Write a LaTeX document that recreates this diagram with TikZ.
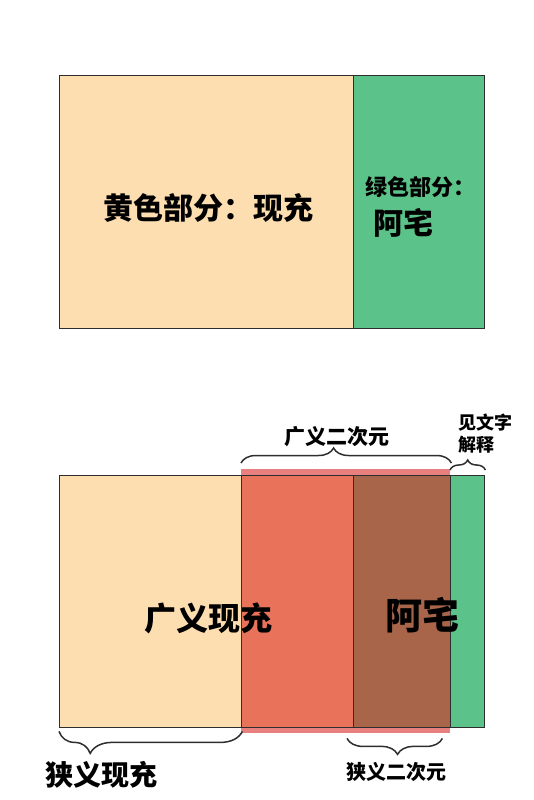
\documentclass[tikz,border=0pt]{standalone}
\usepackage{fontspec}
\newfontfamily\cjk{Noto Sans CJK SC}
\usetikzlibrary{decorations.pathreplacing}
\definecolor{yel}{HTML}{FDDEB1}
\definecolor{grn}{HTML}{5BC389}
\definecolor{red}{HTML}{E8735A}
\definecolor{brn}{HTML}{A9654A}
\definecolor{band}{HTML}{E88080}
\definecolor{ink}{HTML}{2E2E2E}
\newcommand{\fs}[1]{\fontsize{#1}{1.2\dimexpr#1pt\relax}\selectfont}
\begin{document}
\begin{tikzpicture}[
          x=1pt, y=-1pt,
          box/.style={draw=ink, line width=1.4pt, anchor=north west, inner sep=0pt},
          lbl/.style={inner sep=0pt, font=\cjk\bfseries},
          brc/.style={draw=ink, line width=1.5pt, decorate, decoration={brace, amplitude=#1}},
          brc/.default=12pt
        ]
        \useasboundingbox (0,0) rectangle (533,800);
        \node[box, fill=yel, minimum width=294pt, minimum height=253pt] (yelTop) at (59,75) {};
        \node[box, fill=grn, minimum width=131pt, minimum height=253pt] (grnTop) at (353,75) {};
        \fill[band] (241,469) rectangle (450,733);
        \node[box, fill=yel, minimum width=182pt, minimum height=252pt] (yelBot) at (59,475) {};
        \node[box, fill=red, minimum width=112pt, minimum height=252pt] (redBot) at (241,475) {};
        \node[box, fill=brn, minimum width=97pt, minimum height=252pt] (brnBot) at (353,475) {};
        \node[box, fill=grn, minimum width=34pt, minimum height=252pt] (grnBot) at (450,475) {};
        \node[lbl, font=\cjk\bfseries\fs{30}] (yelTxt) at (208,208) {黄色部分：现充};
        \node[lbl, font=\cjk\bfseries\fs{22}, anchor=west] (grnTxt) at (365,187) {绿色部分：};
        \node[lbl, font=\cjk\bfseries\fs{30}, anchor=west] (grnName) at (373,223) {阿宅};
        \node[lbl, font=\cjk\bfseries\fs{32}] (wideReal) at (208,618) {广义现充};
        \node[lbl, font=\cjk\bfseries\fs{37}] (otaku) at (422,615) {阿宅};
        \node[lbl, font=\cjk\bfseries\fs{21}] (wideAcg) at (337,437) {广义二次元};
        \node[lbl, font=\cjk\bfseries\fs{18}, align=left, anchor=north west] (note) at (458,414) {见文字\\解释};
        \node[lbl, font=\cjk\bfseries\fs{28}] (narrowReal) at (101,775) {狭义现充};
        \node[lbl, font=\cjk\bfseries\fs{20}] (narrowAcg) at (396,772) {狭义二次元};
        \draw[brc=15pt, decoration={aspect=0.44}] ([yshift=12pt]redBot.north west) -- ([yshift=12pt]brnBot.north east);
        \draw[brc=10pt] ([yshift=5pt]grnBot.north west) -- ([yshift=5pt]grnBot.north east);
        \draw[brc=22pt, decoration={aspect=0.83}] ([yshift=-3pt]yelBot.south east) -- ([yshift=-3pt]yelBot.south west);
        \draw[brc=16pt, decoration={aspect=0.47}] ([xshift=-9pt, yshift=-10pt]brnBot.south east) -- ([xshift=-6pt, yshift=-10pt]brnBot.south west);
        \end{tikzpicture}
\end{document}
